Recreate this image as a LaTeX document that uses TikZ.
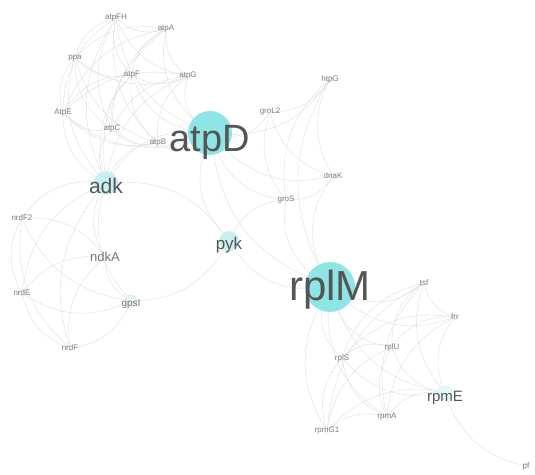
\documentclass[tikz,border=0pt]{standalone}
\usepackage{fontspec}
\setmainfont{Liberation Sans}
\usetikzlibrary{backgrounds}
\definecolor{hubfill}{RGB}{142,229,229}
\definecolor{palefill}{RGB}{200,240,242}
\definecolor{labtext}{RGB}{85,85,85}
\definecolor{smalltext}{RGB}{125,125,125}
\definecolor{linkgray}{RGB}{222,222,222}
\tikzset{
  gene/.style={circle,fill=white,draw=linkgray,inner sep=0pt,minimum size=5pt},
  hub/.style={circle,fill=hubfill,draw=none,inner sep=0pt},
  lab/.style={text=labtext,font=\fontsize{#1}{#1}\selectfont,inner sep=0pt},
  tiny/.style={text=smalltext,font=\fontsize{8}{8}\selectfont,inner sep=0pt},
  link/.style={draw=linkgray,line width=0.4pt,bend right=28},
}
\begin{document}
\begin{tikzpicture}[x=1pt,y=-1pt]
\useasboundingbox (0,0) rectangle (535,474);
% ATP synthase cluster
\node[gene,label={[tiny]center:atpFH}] (atpFH) at (116,18) {};
\node[gene,label={[tiny]center:atpA}] (atpA) at (166,29) {};
\node[gene,label={[tiny]center:ppa}] (ppa) at (75,58) {};
\node[gene,label={[tiny]center:atpF}] (atpF) at (132,75) {};
\node[gene,label={[tiny]center:atpG}] (atpG) at (188,76) {};
\node[gene,label={[tiny]center:AtpE}] (AtpE) at (63,113) {};
\node[gene,label={[tiny]center:atpC}] (atpC) at (112,129) {};
\node[gene,label={[tiny]center:atpB}] (atpB) at (158,143) {};
\node[hub,minimum size=44pt,label={[lab=38,yshift=-9pt]center:atpD}] (atpD) at (210,133) {};
\node[hub,fill=palefill,minimum size=24pt,label={[lab=21,yshift=-3pt]center:adk}] (adk) at (106,183) {};
% chaperones
\node[gene,label={[tiny]center:htpG}] (htpG) at (330,79) {};
\node[gene,label={[tiny]center:groL2}] (groL2) at (270,112) {};
\node[gene,label={[tiny]center:dnaK}] (dnaK) at (333,176) {};
\node[gene,label={[tiny]center:groS}] (groS) at (286,200) {};
\node[hub,fill=palefill,minimum size=20pt,label={[lab=17,yshift=-4pt]center:pyk}] (pyk) at (229,241) {};
% nucleotide cluster
\node[gene,label={[tiny]center:nrdF2}] (nrdF2) at (22,218) {};
\node[gene,label={[lab=13,text=smalltext!80!labtext]center:ndkA}] (ndkA) at (105,257) {};
\node[gene,label={[tiny]center:nrdE}] (nrdE) at (22,293) {};
\node[gene,fill=palefill!50,minimum size=12pt,label={[lab=10,text=smalltext!80!labtext,yshift=-3pt]center:gpsI}] (gpsI) at (131,301) {};
\node[gene,label={[tiny]center:nrdF}] (nrdF) at (70,348) {};
% ribosome cluster
\node[hub,minimum size=50pt,label={[lab=42,yshift=-3pt]center:rplM}] (rplM) at (330,287) {};
\node[gene,label={[tiny]center:tsf}] (tsf) at (424,283) {};
\node[gene,label={[tiny]center:frr}] (frr) at (455,317) {};
\node[gene,label={[tiny]center:rplU}] (rplU) at (392,347) {};
\node[gene,label={[tiny]center:rplS}] (rplS) at (342,358) {};
\node[gene,fill=palefill!50,minimum size=14pt,label={[lab=15,yshift=-5pt]center:rpmE}] (rpmE) at (445,393) {};
\node[gene,label={[tiny]center:rpmA}] (rpmA) at (387,417) {};
\node[gene,label={[tiny]center:rpmG1}] (rpmG1) at (327,431) {};
\node[gene,label={[tiny]center:pf}] (pf) at (526,466) {};
\begin{scope}[on background layer]
\foreach \a/\b in {atpFH/atpA,atpFH/ppa,atpFH/atpF,atpFH/atpG,atpFH/AtpE,atpFH/atpC,atpFH/atpB,atpFH/atpD,atpFH/adk,
  atpA/ppa,atpA/atpF,atpA/atpG,atpA/AtpE,atpA/atpC,atpA/atpD,atpA/adk,
  ppa/atpF,ppa/atpG,ppa/AtpE,ppa/atpC,ppa/atpB,ppa/adk,
  atpF/atpG,atpF/AtpE,atpF/atpC,atpF/atpB,atpF/atpD,atpF/adk,
  atpG/AtpE,atpG/atpC,atpG/atpB,atpG/atpD,atpG/adk,
  AtpE/atpC,AtpE/atpB,AtpE/adk,AtpE/atpD,
  atpC/atpB,atpC/atpD,atpC/adk,atpB/atpD,atpB/adk,atpD/adk}
  \draw[link] (\a) to (\b);
\foreach \a/\b in {adk/ndkA,adk/gpsI,adk/nrdE,adk/nrdF,adk/nrdF2,
  ndkA/nrdF2,ndkA/nrdE,ndkA/nrdF,ndkA/gpsI,nrdF2/nrdE,nrdF2/nrdF,
  nrdE/nrdF,nrdE/gpsI,nrdF/gpsI,nrdF2/gpsI,gpsI/pyk,pyk/adk}
  \draw[link] (\a) to (\b);
\foreach \a/\b in {atpD/groL2,atpD/htpG,atpD/dnaK,atpD/groS,atpD/pyk,atpD/rplM,
  groL2/groS,groL2/htpG,groL2/dnaK,htpG/dnaK,htpG/groS,groS/dnaK,groS/pyk,
  dnaK/rplM,groS/rplM,htpG/rplM,pyk/rplM}
  \draw[link] (\a) to (\b);
\foreach \a/\b in {rplM/tsf,rplM/frr,rplM/rplU,rplM/rplS,rplM/rpmE,rplM/rpmA,rplM/rpmG1,
  tsf/frr,tsf/rplU,tsf/rplS,tsf/rpmE,tsf/rpmA,tsf/rpmG1,
  frr/rplU,frr/rplS,frr/rpmE,frr/rpmA,
  rplU/rplS,rplU/rpmE,rplU/rpmA,rplU/rpmG1,
  rplS/rpmE,rplS/rpmA,rplS/rpmG1,
  rpmE/rpmA,rpmE/rpmG1,rpmA/rpmG1,rpmE/pf}
  \draw[link] (\a) to (\b);
\end{scope}
\end{tikzpicture}
\end{document}
